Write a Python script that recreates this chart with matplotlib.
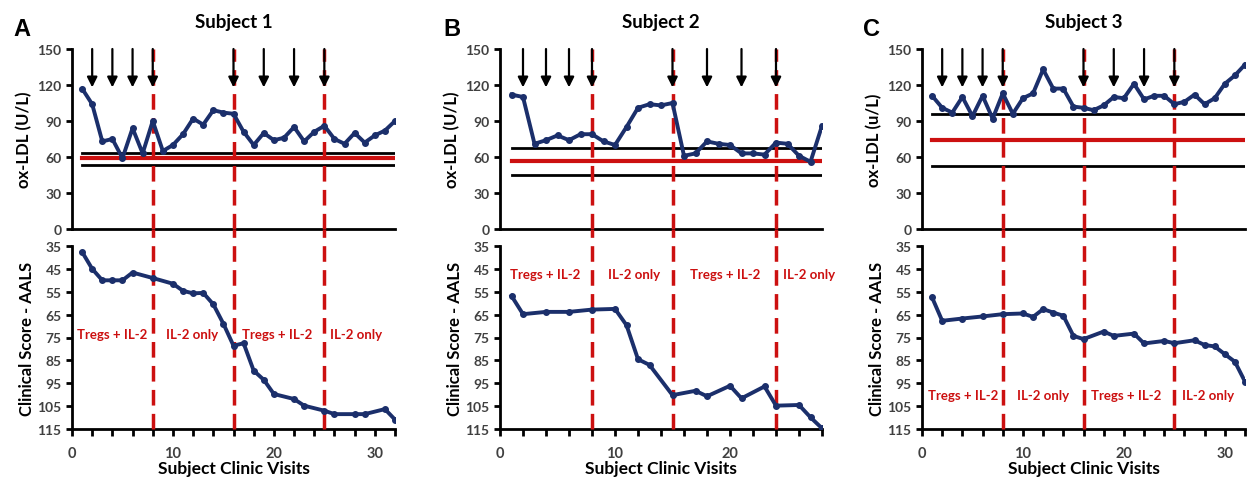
import numpy as np
import matplotlib
matplotlib.use("Agg")
import matplotlib.pyplot as plt

plt.rcParams['font.family'] = ['Lato', 'DejaVu Sans']
plt.rcParams['font.weight'] = 'bold'

# ---- data ----
subjects = ["Subject 1", "Subject 2", "Subject 3"]
letters = ["A", "B", "C"]
ldl_units = ["ox-LDL (U/L)", "ox-LDL (U/L)", "ox-LDL (u/L)"]

ldl_x_a = [1, 2, 3, 4, 5, 6, 7, 8, 9, 10, 11, 12, 13, 14, 15, 16,
           17, 18, 19, 20, 21, 22, 23, 24, 25, 26, 27, 28, 29, 30, 31, 32]
ldl_a = [117, 104, 73, 75, 59, 84, 63, 90, 65, 70, 79, 92, 87, 99, 97, 96,
         81, 70, 80, 74, 76, 85, 73, 81, 86, 75, 71, 80, 72, 78, 82, 90]
ldl_x_b = [1, 2, 3, 4, 5, 6, 7, 8, 9, 10, 11, 12, 13, 14,
           15, 16, 17, 18, 19, 20, 21, 22, 23, 24, 25, 26, 27, 28]
ldl_b = [112, 110, 71, 74, 78, 74, 79, 79, 73, 70, 85, 101, 104, 103,
         105, 61, 63, 73, 71, 70, 63, 63, 62, 72, 71, 61, 56, 86]
ldl_x_c = [1, 2, 3, 4, 5, 6, 7, 8, 9, 10, 11, 12, 13, 14, 15, 16,
           17, 18, 19, 20, 21, 22, 23, 24, 25, 26, 27, 28, 29, 30, 31, 32]
ldl_c = [111, 101, 97, 110, 94, 111, 92, 113, 96, 109, 113, 133, 117, 117, 102, 101,
         99, 103, 110, 109, 121, 108, 111, 111, 104, 106, 112, 104, 109, 121, 128, 137]

# reference band: upper black, red mean, lower black
band_a = [63.3, 58.9, 53.6]
band_b = [67.5, 57.0, 45.3]
band_c = [95.8, 74.4, 52.2]

aals_x_a = [1, 2, 3, 4, 5, 6, 8, 10, 11, 12, 13, 14, 15, 16, 17, 18, 19, 20,
            22, 23, 25, 26, 28, 29, 31, 32]
aals_a = [37.6, 45, 50, 50, 50, 46.6, 49, 51.5, 54.6, 55.7, 55.5, 60.5, 69, 78.6,
          77.5, 89.5, 93.5, 99.7, 101.9, 104.8, 107, 108.5, 108.5, 108.5, 106.3, 110.9]
aals_x_b = [1, 2, 4, 6, 8, 10, 11, 12, 13, 15, 17, 18, 20, 21, 23, 24, 26, 27, 28]
aals_b = [56.8, 64.8, 63.8, 63.8, 62.8, 62.5, 69.6, 84.5, 87, 100.2, 98.3, 100.7,
          96.1, 101.6, 96.4, 104.8, 104.5, 109.9, 114.7]
aals_x_c = [1, 2, 4, 6, 8, 10, 11, 12, 13, 14, 15, 16, 18, 19, 21, 22, 24, 25,
            27, 28, 29, 30, 31, 32]
aals_c = [57.5, 67.7, 66.7, 65.8, 64.8, 64.5, 66, 62.6, 64.1, 65.5, 74.3, 75.7,
          72.4, 74.3, 73.3, 77.6, 76.5, 77.5, 76.2, 78.3, 78.9, 82.3, 85.6, 94.3]

phase_lines_a = [8, 16, 25]
phase_lines_b = [8, 15, 24]
phase_lines_c = [8, 16, 25]
arrows_a = [2, 4, 6, 8, 16, 19, 22, 25]
arrows_b = [2, 4, 6, 8, 15, 18, 21, 24]
arrows_c = [2, 4, 6, 8, 16, 19, 22, 25]

phase_labels = ["Tregs + IL-2", "IL-2 only", "Tregs + IL-2", "IL-2 only"]
label_x_a = [4.0, 11.9, 20.3, 28.1]
label_x_b = [3.9, 11.7, 19.6, 26.9]
label_x_c = [4.1, 12.0, 20.2, 28.3]
label_y = [73.5, 47.4, 100.0]

xmax = [32, 28, 32]

panels = [
    (ldl_x_a, ldl_a, band_a, aals_x_a, aals_a, phase_lines_a, arrows_a, label_x_a),
    (ldl_x_b, ldl_b, band_b, aals_x_b, aals_b, phase_lines_b, arrows_b, label_x_b),
    (ldl_x_c, ldl_c, band_c, aals_x_c, aals_c, phase_lines_c, arrows_c, label_x_c),
]

navy = '#1b2f6b'
red = '#cc1010'
grey = '#404040'
dash = (0, (4.5, 2.4))

W, H = 1257, 481
fig = plt.figure(figsize=(W / 100, H / 100), dpi=100)

lefts = [72, 500, 922]
widths = [323, 322, 323]
letter_x = [22, 452, 872]

for i, (lx, ly, band, ax_, ay, vlines, arrs, labx) in enumerate(panels):
    l = lefts[i] / W
    w = widths[i] / W
    ax1 = fig.add_axes([l, 1 - 230 / H, w, 180 / H])
    ax2 = fig.add_axes([l, 1 - 430 / H, w, 183 / H])

    # top panel: ox-LDL
    ax1.plot(lx, ly, '-o', color=navy, lw=2.8, ms=4, zorder=5)
    ax1.plot([lx[0], lx[-1]], [band[0], band[0]], color='k', lw=2, zorder=3)
    ax1.plot([lx[0], lx[-1]], [band[1], band[1]], color=red, lw=3, zorder=3)
    ax1.plot([lx[0], lx[-1]], [band[2], band[2]], color='k', lw=2, zorder=3)
    for a in arrs:
        ax1.annotate('', xy=(a, 118), xytext=(a, 150),
                     arrowprops=dict(arrowstyle='-|>', color='k', lw=1.6,
                                     mutation_scale=15, shrinkA=0, shrinkB=0),
                     zorder=6)
    ax1.set_xlim(0, xmax[i])
    ax1.set_ylim(0, 150)
    ax1.set_yticks([0, 30, 60, 90, 120, 150])
    ax1.set_xticks([])
    ax1.set_ylabel(ldl_units[i], fontsize=12, fontweight='bold', labelpad=4)
    ax1.set_title(subjects[i], fontsize=13.5, fontweight='bold', pad=16)
    fig.text(letter_x[i] / W, 1 - 30 / H, letters[i], fontsize=17,
             fontweight='bold', ha='center', va='center',
             family=['Liberation Sans', 'DejaVu Sans'])

    # bottom panel: clinical score
    ax2.plot(ax_, ay, '-o', color=navy, lw=2.8, ms=4, zorder=5)
    ax2.set_xlim(0, xmax[i])
    ax2.set_ylim(115, 35)
    ax2.set_yticks([35, 45, 55, 65, 75, 85, 95, 105, 115])
    ticks = list(range(0, xmax[i] + 1, 2))
    ax2.set_xticks(ticks)
    ax2.set_xticklabels([str(t) if t % 10 == 0 else '' for t in ticks])
    ax2.set_xlabel("Subject Clinic Visits", fontsize=12.5, fontweight='bold', labelpad=0)
    ax2.set_ylabel("Clinical Score - AALS", fontsize=12, fontweight='bold', labelpad=2)
    for k, txt in enumerate(phase_labels):
        ax2.text(labx[k], label_y[i], txt, color=red, fontsize=9.5,
                 fontweight='bold', ha='center', va='center', zorder=6)

    # phase boundaries: dashed red, running through both panels (under the data)
    gap_top = 35 - (17 / 183) * 80
    for v in vlines:
        ax1.plot([v, v], [0, 150], color=red, lw=2.5, linestyle=dash, zorder=4)
        ax2.plot([v, v], [115, gap_top], color=red, lw=2.5, linestyle=dash,
                 zorder=4, clip_on=False)

    for ax in (ax1, ax2):
        ax.spines['top'].set_visible(False)
        ax.spines['right'].set_visible(False)
        ax.spines['left'].set_linewidth(2)
        ax.spines['bottom'].set_linewidth(2)
        ax.tick_params(axis='both', labelsize=10, labelcolor=grey, width=2,
                       length=4, direction='out')
        for t in ax.get_yticklabels() + ax.get_xticklabels():
            t.set_fontweight('bold')
    ax2.tick_params(axis='x', labelsize=10.5, length=5, pad=7)

fig.savefig('out.png', dpi=100)
